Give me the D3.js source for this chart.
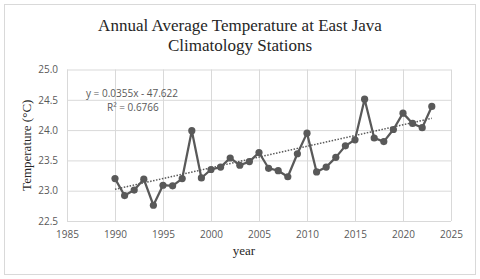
<!DOCTYPE html>
<html>
<head>
<meta charset="utf-8">
<script src="https://cdn.jsdelivr.net/npm/d3@7"></script>
<style>
    body { margin: 0; background: #fff; }
    .grid line { stroke: #d9d9d9; stroke-width: 1; }
    .grid .domain { display: none; }
    .tick-label text { font-family: "Open Sans", sans-serif; font-size: 10px; fill: #595959; }
</style>
</head>
<body>
<div id="chart"></div>
<script>
// data
const years = [1990, 1991, 1992, 1993, 1994, 1995, 1996, 1997, 1998, 1999,
    2000, 2001, 2002, 2003, 2004, 2005, 2006, 2007, 2008, 2009,
    2010, 2011, 2012, 2013, 2014, 2015, 2016, 2017, 2018, 2019,
    2020, 2021, 2022, 2023];
const temps = [23.20, 22.92, 23.01, 23.19, 22.76, 23.09, 23.08, 23.20, 23.99, 23.21,
    23.35, 23.39, 23.54, 23.42, 23.48, 23.63, 23.37, 23.33, 23.23, 23.61,
    23.95, 23.31, 23.39, 23.55, 23.74, 23.84, 24.51, 23.87, 23.81, 24.01,
    24.28, 24.11, 24.04, 24.39];
const xTicks = [1985, 1990, 1995, 2000, 2005, 2010, 2015, 2020, 2025];
const yTicks = [22.5, 23.0, 23.5, 24.0, 24.5, 25.0];
const trendSlope = 0.0355;
const trendIntercept = -47.622;
const trendLabel = "y = 0.0355x - 47.622";
const r2Label = "R² = 0.6766";

const W = 480, H = 279;
const margin = { top: 69.5, right: 29, bottom: 58, left: 67 };
const width = W - margin.left - margin.right;
const height = H - margin.top - margin.bottom;

const svg = d3.select("#chart").append("svg")
    .attr("width", W)
    .attr("height", H);

// chart border
svg.append("rect")
    .attr("x", 4.5).attr("y", 4.5)
    .attr("width", 471).attr("height", 270)
    .attr("fill", "#fff")
    .attr("stroke", "#d9d9d9");

const g = svg.append("g")
    .attr("transform", "translate(" + margin.left + "," + margin.top + ")");

const xScale = d3.scaleLinear().domain([1985, 2025]).range([0, width]);
const yScale = d3.scaleLinear().domain([22.5, 25]).range([height, 0]);

// grid
g.append("g")
    .attr("class", "grid")
    .attr("transform", "translate(0," + height + ")")
    .call(d3.axisBottom(xScale).tickValues(xTicks).tickSize(-height).tickFormat(""));
g.append("g")
    .attr("class", "grid")
    .call(d3.axisLeft(yScale).tickValues(yTicks).tickSize(-width).tickFormat(""));

// tick labels
const xAxis = g.append("g")
    .attr("class", "tick-label")
    .attr("transform", "translate(0," + height + ")")
    .call(d3.axisBottom(xScale).tickValues(xTicks).tickSize(0).tickPadding(10).tickFormat(d3.format("d")));
xAxis.select(".domain").remove();

const yAxis = g.append("g")
    .attr("class", "tick-label")
    .call(d3.axisLeft(yScale).tickValues(yTicks).tickSize(0).tickPadding(9).tickFormat(d3.format(".1f")));
yAxis.select(".domain").remove();

// trend line
const trend = d => trendSlope * d + trendIntercept;
const xr = d3.extent(years);
g.append("line")
    .attr("x1", xScale(xr[0])).attr("y1", yScale(trend(xr[0])))
    .attr("x2", xScale(xr[1])).attr("y2", yScale(trend(xr[1])))
    .attr("stroke", "#595959")
    .attr("stroke-width", 1.5)
    .attr("stroke-dasharray", "1.5,1.5");

// series
const series = years.map((y, i) => ({ year: y, temp: temps[i] }));
const line = d3.line()
    .x(d => xScale(d.year))
    .y(d => yScale(d.temp));

g.append("path")
    .datum(series)
    .attr("fill", "none")
    .attr("stroke", "#595959")
    .attr("stroke-width", 2.25)
    .attr("stroke-linejoin", "round")
    .attr("d", line);

g.selectAll(".point")
    .data(series)
    .enter().append("circle")
    .attr("class", "point")
    .attr("r", 3.6)
    .attr("cx", d => xScale(d.year))
    .attr("cy", d => yScale(d.temp))
    .attr("fill", "#595959");

// equation
g.append("text")
    .attr("x", 19).attr("y", 27.5)
    .style("font-family", "'Open Sans', sans-serif")
    .style("font-size", "10px")
    .attr("fill", "#595959")
    .text(trendLabel);
g.append("text")
    .attr("x", 40).attr("y", 41)
    .style("font-family", "'Open Sans', sans-serif")
    .style("font-size", "10px")
    .attr("fill", "#595959")
    .text(r2Label);

// titles
const title = svg.append("text")
    .attr("text-anchor", "middle")
    .style("font-family", "'Liberation Serif', 'Times New Roman', serif")
    .style("font-size", "17px")
    .attr("fill", "#262626");
title.append("tspan").attr("x", 240).attr("y", 31).text("Annual Average Temperature at East Java");
title.append("tspan").attr("x", 240).attr("y", 51).text("Climatology Stations");

svg.append("text")
    .attr("x", 244).attr("y", 255)
    .attr("text-anchor", "middle")
    .style("font-family", "'Liberation Serif', 'Times New Roman', serif")
    .style("font-size", "13px")
    .attr("fill", "#262626")
    .text("year");

svg.append("text")
    .attr("transform", "translate(31," + (margin.top + height / 2) + ") rotate(-90)")
    .attr("text-anchor", "middle")
    .style("font-family", "'Liberation Serif', 'Times New Roman', serif")
    .style("font-size", "13px")
    .attr("fill", "#262626")
    .text("Temperature (°C)");
</script>
</body>
</html>
